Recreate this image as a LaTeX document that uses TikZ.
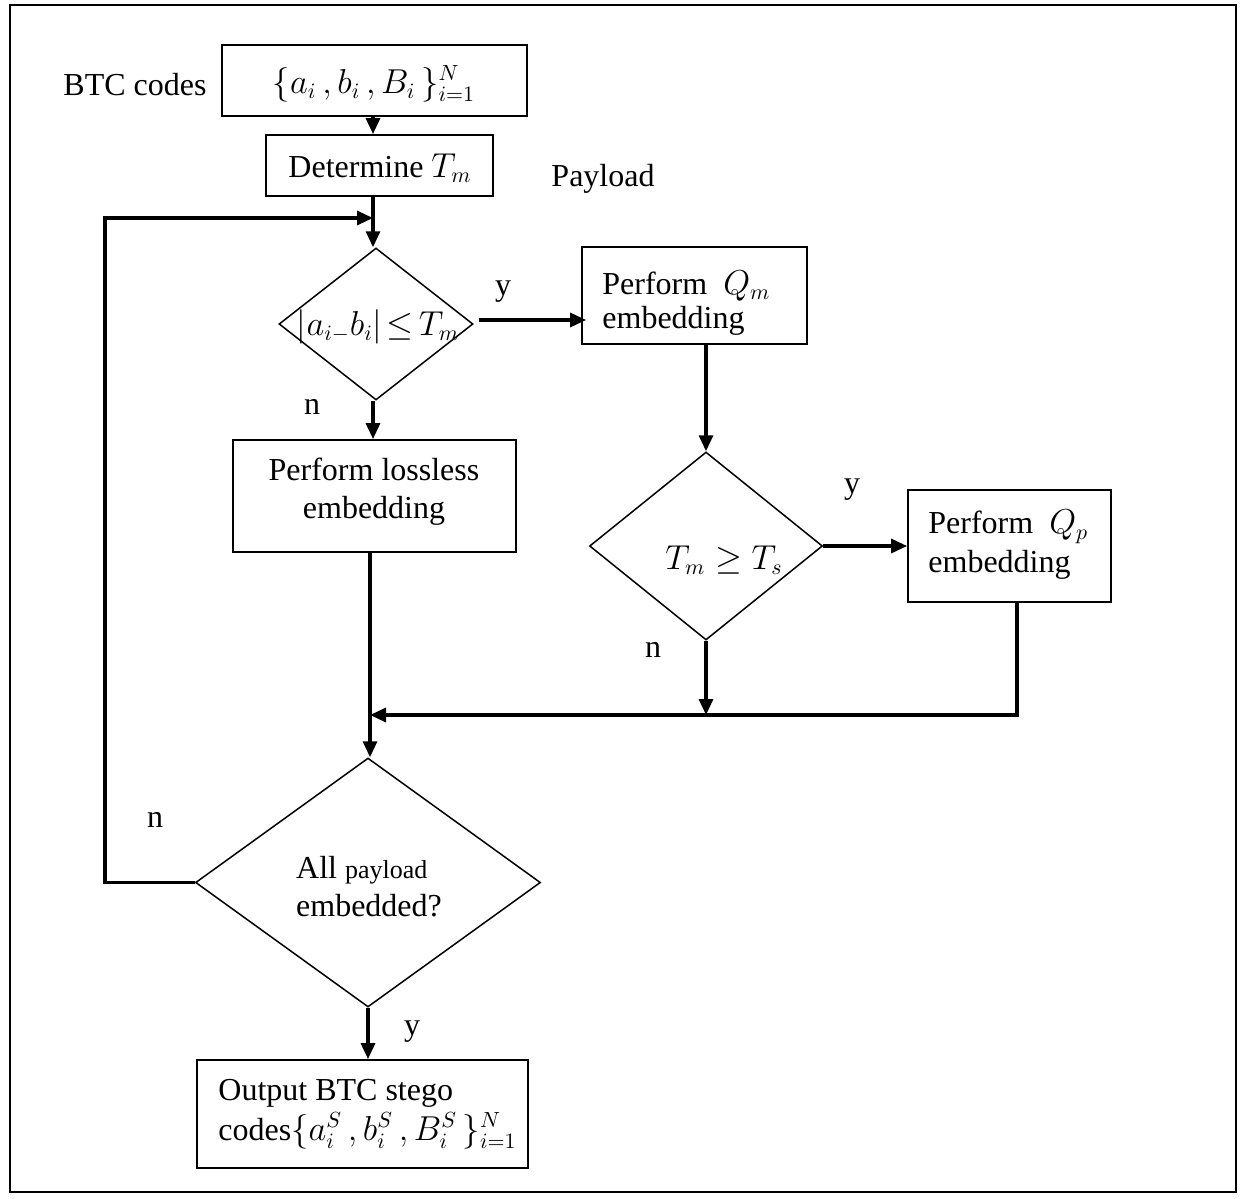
\documentclass[tikz,border=0pt]{standalone}
\usepackage{fontspec}
\setmainfont{Liberation Serif}
\usetikzlibrary{shapes.geometric,arrows.meta}
\begin{document}
\begin{tikzpicture}[x=0.5pt,y=-0.5pt,
  font=\fontsize{16}{19}\selectfont,
  boxs/.style={draw, line width=0.9pt, inner sep=0pt, rectangle},
  dia/.style={draw, diamond, line width=0.75pt, inner sep=0pt},
  arr/.style={line width=1.6pt, -{Triangle[length=8pt,width=7pt]}},
  txt/.style={inner sep=0pt, align=left}]
\useasboundingbox (0,0) rectangle (1245,1198);
\draw[line width=1pt] (10,5) rectangle (1236,1192);

% boxes
\node[boxs, minimum width=152.5pt, minimum height=35.5pt] (top) at (374.5,80.5) {};
\node[txt] (toptxt) at (374,84) {$\{a_i\,, b_i\,, B_i\,\}_{i=1}^N$};
\node[txt] (btc) at (135,85) {BTC codes};
\node[boxs, minimum width=113.5pt, minimum height=30.5pt] (det) at (379.5,165.5) {};
\node[txt] (dettxt) at (380,168) {Determine $T_m$};
\node[txt] (pay) at (603,179) {Payload};

\node[dia, minimum width=97pt, minimum height=76pt] (d1) at (376,324) {};
\node[txt, font=\fontsize{16}{19}\selectfont] (d1txt) at (378,327) {$|a_{i-}b_i|\mskip2mu{\leq}\mskip3mu T_m$};

\node[boxs, minimum width=112.5pt, minimum height=48.5pt] (qm) at (694.5,295.5) {};
\node[txt, anchor=west, font=\fontsize{16}{17}\selectfont] (qmtxt) at (602,303) {Perform\ \ $Q_m$\\embedding};

\node[boxs, minimum width=141.5pt, minimum height=56pt] (ll) at (374.5,496) {};
\node[txt, align=center] (lltxt) at (374,492) {Perform lossless\\embedding};

\node[dia, minimum width=116.5pt, minimum height=94pt] (d2) at (706,546) {};
\node[txt] (d2txt) at (724,560) {$T_m \geq T_s$};

\node[boxs, minimum width=101.5pt, minimum height=56pt] (qp) at (1009.5,546) {};
\node[txt, anchor=west, font=\fontsize{16}{19.5}\selectfont] (qptxt) at (928,545) {Perform\ \ $Q_p$\\embedding};

\node[dia, minimum width=172.5pt, minimum height=124.5pt] (d3) at (368,882.5) {};
\node[txt] (d3txt) at (369,887) {All {\fontsize{13}{15}\selectfont payload}\\embedded?};

\node[boxs, minimum width=165.5pt, minimum height=54pt] (out) at (362.5,1114) {};
\node[txt, anchor=west, font=\fontsize{16}{20}\selectfont] (outtxt) at (218,1114) {Output BTC stego\\codes$\{a_i^S\,, b_i^S\,, B_i^S\,\}_{i=1}^N$};

% labels
\node[txt] (ly1) at (503,292) {y};
\node[txt] (ln1) at (312,407) {n};
\node[txt] (ly2) at (852,490) {y};
\node[txt] (ln2) at (653,650) {n};
\node[txt] (ln3) at (155,820) {n};
\node[txt] (ly3) at (412,1032) {y};

% connectors
\coordinate (lpx) at (105,218);
\coordinate (j1) at (373,218);
\coordinate (j3) at (370,715);

\draw[arr] (top.south -| j1) -- (det.north -| j1);
\draw[arr] (det.south -| j1) -- (d1.north -| j1);
\draw[arr] (d3.west) -| (lpx) -- (j1);
\draw[arr] ([shift={(2.5pt,2pt)}]d1.east) -- ([shift={(2.5pt,2pt)}]d1.east -| qm.west);
\draw[arr] (d1.south -| j1) -- (ll.north -| j1);
\draw[arr] (d2.north |- qm.south) -- (d2.north);
\draw[arr] (d2.east) -- (d2.east -| qp.west);
\draw[arr] (d2.south) -- (d2.south |- j3);
\draw[arr] ([xshift=3.75pt]qp.south) |- (j3);
\draw[arr] (ll.south -| j3) -- (d3.north -| j3);
\draw[arr] (d3.south) -- (d3.south |- out.north);
\end{tikzpicture}
\end{document}
